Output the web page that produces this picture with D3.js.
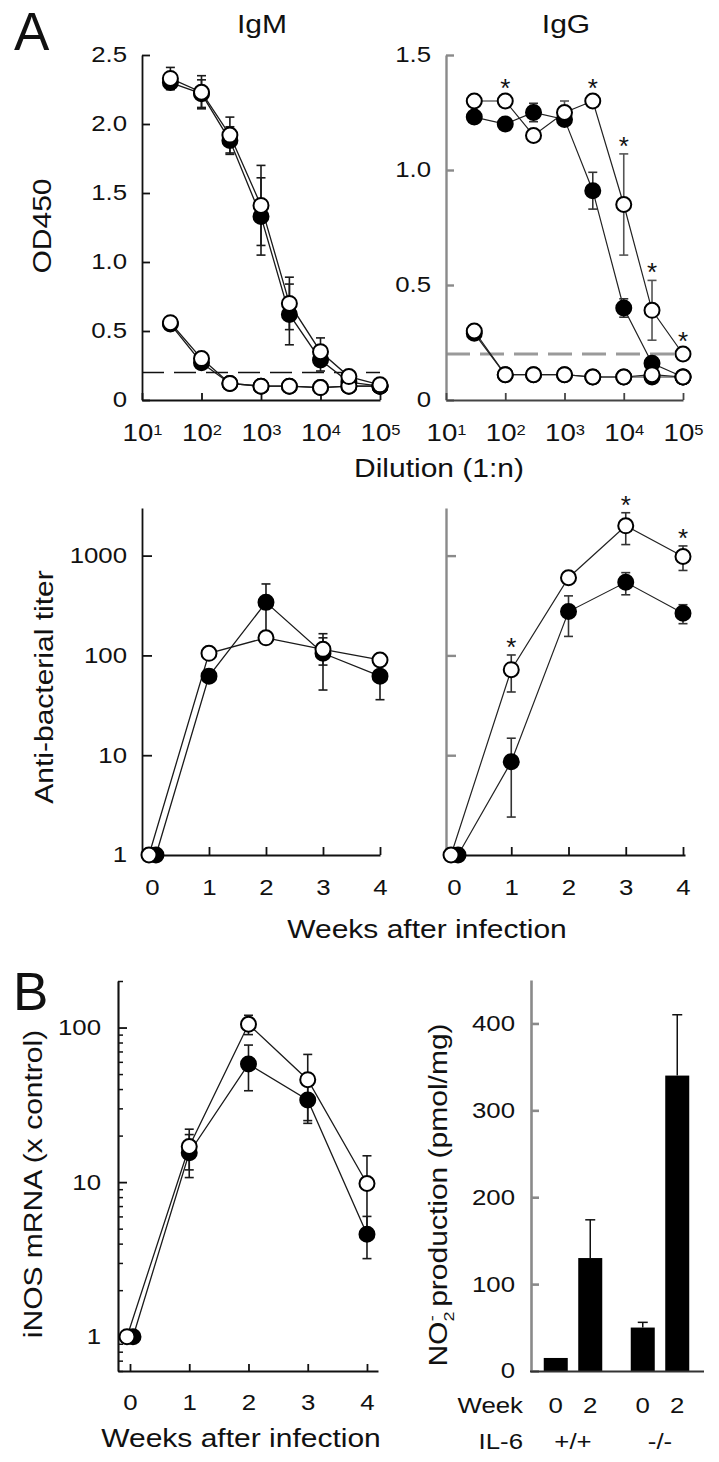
<!DOCTYPE html>
<html><head><meta charset="utf-8">
<script src="https://cdn.jsdelivr.net/npm/d3@7"></script>
<style>
body{margin:0;background:#fff}
svg{display:block;font-family:"Liberation Sans",Arial,Helvetica,sans-serif}
</style></head><body>
<svg id="fig" width="719" height="1462"></svg>
<script>
// ---------------- DATA ----------------
const dilutions = [30, 100, 300, 1000, 3000, 10000, 30000, 100000];
const dilutionTicks = [10, 100, 1000, 10000, 100000];
const odTicksIgM = [0, 0.5, 1, 1.5, 2, 2.5];
const odTicksIgG = [0, 0.5, 1, 1.5];
const cutoffOD = 0.2;

const igmImmuneFilled    = [2.30, 2.22, 1.88, 1.33, 0.62, 0.29, 0.13, 0.10];
const igmImmuneFilledErr = [0.05, 0.10, 0.10, 0.28, 0.22, 0.08, 0, 0];
const igmImmuneOpen      = [2.33, 2.23, 1.92, 1.41, 0.70, 0.35, 0.17, 0.11];
const igmImmuneOpenErr   = [0.08, 0.12, 0.13, 0.29, 0.19, 0.10, 0, 0];
const igmPreFilled       = [0.55, 0.27, 0.12, 0.10, 0.10, 0.09, 0.10, 0.10];
const igmPreOpen         = [0.56, 0.30, 0.12, 0.10, 0.10, 0.09, 0.10, 0.10];

const iggImmuneFilled    = [1.23, 1.20, 1.25, 1.22, 0.91, 0.40, 0.16, 0.10];
const iggImmuneFilledErr = [0.02, 0.02, 0.04, 0.02, 0.08, 0.04, 0.02, 0];
const iggImmuneOpen      = [1.30, 1.30, 1.15, 1.25, 1.30, 0.85, 0.39, 0.20];
const iggImmuneOpenErr   = [0.02, 0.02, 0.02, 0.05, 0.02, 0.22, 0.13, 0.01];
const iggPreFilled       = [0.29, 0.11, 0.11, 0.11, 0.10, 0.10, 0.10, 0.10];
const iggPreOpen         = [0.30, 0.11, 0.11, 0.11, 0.10, 0.10, 0.11, 0.10];
const iggStarDilutions   = [100, 3000, 10000, 30000, 100000];

const weeks = [0, 1, 2, 3, 4];
const weekTicks = [0, 1, 2, 3, 4];
const titerTicks = [1, 10, 100, 1000];
const titerIgMFilled    = [1, 62, 340, 105, 62];
const titerIgMFilledErr = [0, 6, 180, 60, 26];
const titerIgMOpen      = [1, 105, 150, 115, 90];
const titerIgMOpenErr   = [0, 5, 10, 35, 8];
const titerIgGFilled    = [1, 8.6, 275, 540, 265];
const titerIgGFilledErr = [0, 6.2, 120, 135, 57];
const titerIgGOpen      = [1, 72, 600, 1990, 980];
const titerIgGOpenErr   = [0, 29, 50, 700, 270];
const titerIgGStarWeeks = [1, 3, 4];

const inosTicks = [1, 10, 100];
const inosMinorTicks = [0.6, 0.7, 0.8, 0.9, 2, 3, 4, 5, 6, 7, 8, 9, 20, 30, 40, 50, 60, 70, 80, 90, 200];
const inosFilled    = [1, 15.5, 58, 34, 4.6];
const inosFilledErr = [0, 4.8, 19, 10, 1.4];
const inosOpen      = [1, 17, 105, 46, 9.8];
const inosOpenErr   = [0, 5, 15, 21, 5.0];

const no2Genotypes = ["+/+", "-/-"];
const no2Weeks = ["0", "2"];
const no2Group = ["+/+", "+/+", "-/-", "-/-"];
const no2Week  = ["0", "2", "0", "2"];
const no2Values = [15, 130, 50, 340];
const no2Err    = [0, 44, 6, 70];
const no2Ticks  = [0, 100, 200, 300, 400];

// ---------------- HELPERS ----------------
const svg = d3.select("#fig");
const SX = 1.2;
const TICK_FS = 21.5, TITLE_FS = 25;
const R = 7.5;

function txt(g, x, y, s, o = {}) {
  const t = g.append("text")
    .attr("transform", `translate(${x},${y}) rotate(${o.rotate || 0}) scale(${o.sx ?? SX},1)`)
    .attr("text-anchor", o.anchor || "middle")
    .attr("font-size", o.size || TITLE_FS)
    .attr("fill", o.fill || "#111");
  if (s !== null) t.text(s);
  return t;
}
function styleAxis(a, color, w) {
  a.attr("font-family", null).attr("font-size", null);
  a.select(".domain").attr("stroke", color).attr("stroke-width", w);
  a.selectAll(".tick line").attr("stroke", color).attr("stroke-width", w);
  a.selectAll(".tick text").attr("font-size", TICK_FS).attr("fill", "#111")
    .each(function () {
      const t = d3.select(this);
      const x = +(t.attr("x") || 0);
      t.attr("x", x / SX).attr("transform", `scale(${SX},1)`);
    });
  return a;
}
function logXAxis(g, x, y0, color, w) {
  const ax = d3.axisBottom(x).tickValues(dilutionTicks).tickSize(-7).tickSizeOuter(0)
    .tickPadding(25).tickFormat(() => "");
  const a = g.append("g").attr("transform", `translate(0,${y0})`).call(ax);
  styleAxis(a, color, w);
  a.selectAll(".tick text").attr("font-size", 23).each(function (d) {
    const t = d3.select(this);
    t.text("10");
    t.append("tspan").attr("dy", "-0.45em").attr("font-size", "0.6em").text(Math.round(Math.log10(d)));
  });
}
function pts(xs, vals, errs, xS, yS, dodge) {
  return xs.map((xv, i) => ({
    x: xS(xv) + (xv === 0 ? dodge : 0),
    v: vals[i], e: errs ? errs[i] : 0, yS
  }));
}
function drawLine(g, p, color = "#1a1a1a", w = 1.3) {
  g.append("path").attr("fill", "none").attr("stroke", color).attr("stroke-width", w)
    .attr("d", d3.line().x(d => d.x).y(d => d.yS(d.v))(p));
}
function drawErr(g, p, color = "#1a1a1a", cap = 4.5) {
  p.filter(d => d.e > 0).forEach(d => {
    const lo = d.v - d.e > 0 ? d.yS(d.v - d.e) : d.yS(d.v);
    const hi = d.yS(d.v + d.e);
    g.append("line").attr("x1", d.x).attr("x2", d.x).attr("y1", lo).attr("y2", hi)
      .attr("stroke", color).attr("stroke-width", 1.6);
    [lo, hi].forEach(yy => g.append("line").attr("x1", d.x - cap).attr("x2", d.x + cap)
      .attr("y1", yy).attr("y2", yy).attr("stroke", color).attr("stroke-width", 1.6));
  });
}
function drawPts(g, p, filled) {
  g.selectAll(null).data(p).join("circle")
    .attr("cx", d => d.x).attr("cy", d => d.yS(d.v)).attr("r", R)
    .attr("fill", filled ? "#000" : "#fff").attr("stroke", "#000").attr("stroke-width", 2);
}
function star(g, x, yS, v, e) {
  const c = Math.min(yS(v + e) - 14, yS(v) - 19);
  g.append("text").attr("x", x).attr("y", c + 0.58 * 26).attr("text-anchor", "middle")
    .attr("font-size", 26).attr("fill", "#111").text("*");
}

// ---------------- PANEL LETTERS ----------------
txt(svg, 14, 50, "A", { anchor: "start", size: 53, sx: 1 });
txt(svg, 13, 1010, "B", { anchor: "start", size: 53, sx: 1 });

// ---------------- IgM dilution ----------------
{
  const g = svg.append("g");
  const x = d3.scaleLog().domain([10, 1e5]).range([142, 380]);
  const y = d3.scaleLinear().domain([0, 2.5]).range([400, 55]);
  g.append("line").attr("x1", x.range()[0]).attr("x2", x.range()[1])
    .attr("y1", y(cutoffOD)).attr("y2", y(cutoffOD))
    .attr("stroke", "#111").attr("stroke-width", 1.5).attr("stroke-dasharray", "22,10");
  styleAxis(g.append("g").attr("transform", "translate(142,0)")
    .call(d3.axisLeft(y).tickValues(odTicksIgM).tickSize(-8).tickSizeOuter(0).tickPadding(15)
      .tickFormat(d => d === 0 ? "0" : d3.format(".1f")(d))), "#111", 1.8);
  logXAxis(g, x, 400, "#111", 1.8);
  const pf = pts(dilutions, igmPreFilled, null, x, y, 0);
  const po = pts(dilutions, igmPreOpen, null, x, y, 0);
  const f = pts(dilutions, igmImmuneFilled, igmImmuneFilledErr, x, y, 0);
  const o = pts(dilutions, igmImmuneOpen, igmImmuneOpenErr, x, y, 0);
  [pf, po, f, o].forEach(p => drawLine(g, p));
  drawErr(g, f); drawErr(g, o);
  drawPts(g, pf, true); drawPts(g, f, true);
  drawPts(g, po, false); drawPts(g, o, false);
  txt(g, 262, 33, "IgM");
  txt(g, 51, 226, "OD450", { rotate: -90 });
}

// ---------------- IgG dilution ----------------
{
  const g = svg.append("g");
  const x = d3.scaleLog().domain([10, 1e5]).range([446, 683]);
  const y = d3.scaleLinear().domain([0, 1.5]).range([400, 55]);
  g.append("line").attr("x1", x.range()[0]).attr("x2", x.range()[1])
    .attr("y1", y(cutoffOD)).attr("y2", y(cutoffOD))
    .attr("stroke", "#9a9a9a").attr("stroke-width", 3).attr("stroke-dasharray", "24,10");
  styleAxis(g.append("g").attr("transform", "translate(446,0)")
    .call(d3.axisLeft(y).tickValues(odTicksIgG).tickSize(-8).tickSizeOuter(0).tickPadding(15)
      .tickFormat(d => d === 0 ? "0" : d3.format(".1f")(d))), "#8a8a8a", 2.4);
  logXAxis(g, x, 400, "#444", 1.8);
  const pf = pts(dilutions, iggPreFilled, null, x, y, 0);
  const po = pts(dilutions, iggPreOpen, null, x, y, 0);
  const f = pts(dilutions, iggImmuneFilled, iggImmuneFilledErr, x, y, 0);
  const o = pts(dilutions, iggImmuneOpen, iggImmuneOpenErr, x, y, 0);
  [pf, po, f, o].forEach(p => drawLine(g, p, "#222", 1.2));
  drawErr(g, f, "#333"); drawErr(g, o, "#555");
  drawPts(g, pf, true); drawPts(g, f, true);
  drawPts(g, po, false); drawPts(g, o, false);
  iggStarDilutions.forEach(dv => {
    const i = dilutions.indexOf(dv);
    star(g, x(dv), y, iggImmuneOpen[i], iggImmuneOpenErr[i]);
  });
  txt(g, 566, 33, "IgG");
  txt(g, 439, 477, "Dilution (1:n)");
}

// ---------------- Titers ----------------
const yTiter = d3.scaleLog().domain([1, 3000]).range([855, 508]);
{
  const g = svg.append("g");
  const x = d3.scaleLinear().domain([-0.175, 4]).range([142, 380]);
  styleAxis(g.append("g").attr("transform", "translate(142,0)")
    .call(d3.axisLeft(yTiter).tickValues(titerTicks).tickSize(-10).tickSizeOuter(0).tickPadding(15)
      .tickFormat(d3.format("d"))), "#111", 1.8);
  styleAxis(g.append("g").attr("transform", "translate(0,855)")
    .call(d3.axisBottom(x).tickValues(weekTicks).tickSize(-8).tickSizeOuter(0).tickPadding(25)
      .tickFormat(d3.format("d"))), "#111", 1.8);
  const f = pts(weeks, titerIgMFilled, titerIgMFilledErr, x, yTiter, 4);
  const o = pts(weeks, titerIgMOpen, titerIgMOpenErr, x, yTiter, -3);
  drawLine(g, f); drawLine(g, o);
  drawErr(g, f); drawErr(g, o);
  drawPts(g, f, true); drawPts(g, o, false);
  txt(g, 53, 687, "Anti-bacterial titer", { rotate: -90 });
}
{
  const g = svg.append("g");
  const x = d3.scaleLinear().domain([-0.14, 4.035]).range([446, 685]);
  styleAxis(g.append("g").attr("transform", "translate(446,0)")
    .call(d3.axisLeft(yTiter).tickValues(titerTicks).tickSize(-10).tickSizeOuter(0)
      .tickFormat(() => "")), "#8a8a8a", 2.4);
  styleAxis(g.append("g").attr("transform", "translate(0,855)")
    .call(d3.axisBottom(x).tickValues(weekTicks).tickSize(-8).tickSizeOuter(0).tickPadding(25)
      .tickFormat(d3.format("d"))), "#111", 1.8);
  const f = pts(weeks, titerIgGFilled, titerIgGFilledErr, x, yTiter, 4);
  const o = pts(weeks, titerIgGOpen, titerIgGOpenErr, x, yTiter, -3);
  drawLine(g, f, "#222", 1.2); drawLine(g, o, "#222", 1.2);
  drawErr(g, f, "#333"); drawErr(g, o, "#333");
  drawPts(g, f, true); drawPts(g, o, false);
  titerIgGStarWeeks.forEach(w => {
    const i = weeks.indexOf(w);
    star(g, x(w), yTiter, titerIgGOpen[i], titerIgGOpenErr[i]);
  });
  txt(g, 427, 938, "Weeks after infection");
}

// ---------------- B: iNOS ----------------
{
  const g = svg.append("g");
  const y = d3.scaleLog().domain([0.6, 200]).range([1371, 981]);
  const x = d3.scaleLinear().domain([-0.2025, 4.186]).range([118, 378]);
  const minor = g.append("g").attr("transform", "translate(118,0)")
    .call(d3.axisLeft(y).tickValues(inosMinorTicks).tickSize(-5).tickSizeOuter(0).tickFormat(() => ""));
  styleAxis(minor, "#111", 1.5);
  styleAxis(g.append("g").attr("transform", "translate(118,0)")
    .call(d3.axisLeft(y).tickValues(inosTicks).tickSize(-9).tickSizeOuter(0).tickPadding(17)
      .tickFormat(d3.format("d"))), "#111", 1.8);
  styleAxis(g.append("g").attr("transform", "translate(0,1371)")
    .call(d3.axisBottom(x).tickValues(weekTicks).tickSize(-7).tickSizeOuter(0).tickPadding(24)
      .tickFormat(d3.format("d"))), "#111", 1.8);
  const f = pts(weeks, inosFilled, inosFilledErr, x, y, 3);
  const o = pts(weeks, inosOpen, inosOpenErr, x, y, -3);
  drawLine(g, f); drawLine(g, o);
  drawErr(g, f); drawErr(g, o);
  drawPts(g, f, true); drawPts(g, o, false);
  txt(g, 42, 1184, "iNOS mRNA (x control)", { rotate: -90 });
  txt(g, 241, 1447, "Weeks after infection");
}

// ---------------- B: NO2 bars ----------------
{
  const g = svg.append("g");
  const y = d3.scaleLinear().domain([0, 450]).range([1371, 980]);
  const x0 = d3.scaleBand().domain(no2Genotypes).range([529.5, 703.5]);
  const x1 = d3.scaleBand().domain(no2Weeks).range([0, x0.bandwidth()]).paddingInner(0.304).paddingOuter(0.413);
  const bars = no2Values.map((v, i) => ({ v, e: no2Err[i], g: no2Group[i], w: no2Week[i],
    x: x0(no2Group[i]) + x1(no2Week[i]) }));
  g.selectAll(null).data(bars).join("rect")
    .attr("x", d => d.x).attr("width", x1.bandwidth())
    .attr("y", d => y(d.v)).attr("height", d => y(0) - y(d.v)).attr("fill", "#000");
  bars.filter(d => d.e > 0).forEach(d => {
    const cx = d.x + x1.bandwidth() / 2;
    g.append("line").attr("x1", cx).attr("x2", cx).attr("y1", y(d.v)).attr("y2", y(d.v + d.e))
      .attr("stroke", "#111").attr("stroke-width", 1.5);
    g.append("line").attr("x1", cx - 5).attr("x2", cx + 5).attr("y1", y(d.v + d.e)).attr("y2", y(d.v + d.e))
      .attr("stroke", "#111").attr("stroke-width", 1.5);
  });
  styleAxis(g.append("g").attr("transform", "translate(531,0)")
    .call(d3.axisLeft(y).tickValues(no2Ticks).tickSize(-8).tickSizeOuter(0).tickPadding(16)
      .tickFormat(d3.format("d"))), "#8a8a8a", 2.6);
  styleAxis(g.append("g").attr("transform", "translate(0,1371)")
    .call(d3.axisBottom(x0).tickSize(0).tickSizeOuter(0).tickFormat(() => "")), "#333", 1.8);
  txt(g, 523, 1413, "Week", { anchor: "end", size: TICK_FS });
  bars.forEach(d => txt(g, d.x + x1.bandwidth() / 2, 1413, d.w, { size: TICK_FS }));
  txt(g, 523, 1449, "IL-6", { anchor: "end", size: TICK_FS });
  no2Genotypes.forEach(gt => txt(g, x0(gt) + x0.bandwidth() / 2, 1449, gt, { size: TICK_FS }));
  const t = txt(g, 447, 1195, null, { rotate: -90 });
  t.append("tspan").text("NO");
  t.append("tspan").attr("dy", 7).attr("font-size", 15).text("2");
  t.append("tspan").attr("dx", -8).attr("dy", -17).attr("font-size", 15).text("-");
  t.append("tspan").attr("dy", 10).text(" production (pmol/mg)");
}
</script>
</body></html>
